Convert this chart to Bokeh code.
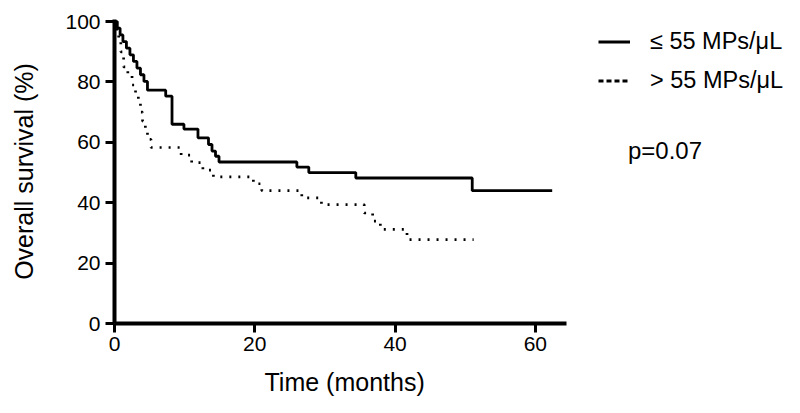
from bokeh.plotting import figure
from bokeh.models import Range1d, FixedTicker, Legend, LegendItem, Label, Title
from bokeh.embed import file_html
from bokeh.resources import INLINE

# Kaplan-Meier curves (months, % surviving)
months_low = [0, 0.4, 0.8, 1.2, 1.7, 2.2, 2.7, 3.2, 3.7, 4.2, 4.7, 7.3, 8.2,
              9.9, 11.9, 13.4, 13.9, 14.4, 14.9, 26.0, 27.7, 34.4, 51.0, 62.4]
surv_low = [100, 97.8, 95.6, 93.4, 91.2, 89.0, 86.8, 84.6, 82.4, 80.2, 77.3, 75.3, 66.0,
            64.4, 61.5, 59.3, 57.1, 55.4, 53.5, 51.8, 50.0, 48.2, 44.0, 44.0]

months_high = [0, 0.3, 0.6, 0.9, 1.3, 1.9, 2.5, 3.0, 3.4, 3.7, 4.0, 4.4, 4.7, 5.2,
               9.5, 11.0, 12.6, 14.1, 19.8, 21.0, 26.7, 29.5, 35.6, 36.8, 37.9, 41.7, 51.2]
surv_high = [100, 97, 94, 90, 85, 82, 79, 76, 73, 70, 67, 64, 61, 58.3,
             55.8, 53.3, 50.8, 48.6, 46.3, 44.0, 41.6, 39.4, 36.6, 33.9, 31.2, 27.8, 27.8]

x_ticks = [0, 20, 40, 60]
y_ticks = [0, 20, 40, 60, 80, 100]
x_axis_extent = (0, 64.5)
x_title = "Time (months)"
y_title = "Overall survival (%)"
series_labels = ["\u2264 55 MPs/\u03bcL", "> 55 MPs/\u03bcL"]
p_value_text = "p=0.07"
p_value_pos = (73.2, 57.2)

FONT = "Liberation Sans"
NAN = float("nan")

p = figure(width=800, height=410, output_backend="svg", toolbar_location=None,
           x_range=Range1d(0, 97.8), y_range=Range1d(0, 100.7),
           min_border_left=114, min_border_right=0, min_border_top=19, min_border_bottom=87,
           y_axis_label=y_title)
p.outline_line_color = None
p.xgrid.visible = False
p.ygrid.visible = False
p.background_fill_color = "white"
p.border_fill_color = "white"

p.xaxis.ticker = FixedTicker(ticks=x_ticks)
p.yaxis.ticker = FixedTicker(ticks=y_ticks)
p.xaxis.bounds = x_axis_extent
for ax in (p.xaxis, p.yaxis):
    ax.axis_line_width = 4
    ax.axis_line_color = "black"
    ax.major_tick_line_width = 3
    ax.major_tick_line_color = "black"
    ax.major_tick_out = 9
    ax.major_tick_in = 0
    ax.minor_tick_line_color = None
    ax.major_label_text_font = FONT
    ax.major_label_text_font_size = "21px"
    ax.major_label_text_color = "black"
    ax.axis_label_text_font = FONT
    ax.axis_label_text_font_size = "25px"
    ax.axis_label_text_font_style = "normal"
    ax.axis_label_text_color = "black"
p.xaxis.major_label_standoff = 4
p.yaxis.major_label_standoff = 5
p.yaxis.axis_label_standoff = 24

# x-axis title, centred under the drawn part of the axis
p.add_layout(Title(text=x_title, align="left", offset=150, standoff=24,
                   text_font=FONT, text_font_size="25px", text_font_style="normal",
                   text_color="black"), "below")

r_low = p.step(months_low, surv_low, mode="after", line_width=2.8, color="black")
r_high = p.step(months_high, surv_high, mode="after", line_width=2.7, color="black",
                line_dash="2 7")

# legend proxies (NaN data: nothing drawn in the plot area)
leg_low = p.line([NAN], [NAN], line_width=3, color="black")
leg_high = p.line([NAN], [NAN], line_width=3, color="black", line_dash="5 3")

legend = Legend(items=[LegendItem(label=series_labels[0], renderers=[leg_low], index=0),
                       LegendItem(label=series_labels[1], renderers=[leg_high], index=0)],
                location=(484, 229), orientation="vertical",
                padding=0, margin=0, spacing=12, glyph_width=32, glyph_height=27,
                label_standoff=20, label_text_font=FONT, label_text_font_size="23.5px",
                label_text_color="black", border_line_color=None,
                background_fill_alpha=0)
p.add_layout(legend, "center")

p.add_layout(Label(x=p_value_pos[0], y=p_value_pos[1], text=p_value_text,
                   text_font=FONT, text_font_size="24px", text_color="black",
                   text_baseline="middle", text_align="left"))

open("out.html", "w").write(file_html(p, INLINE))
